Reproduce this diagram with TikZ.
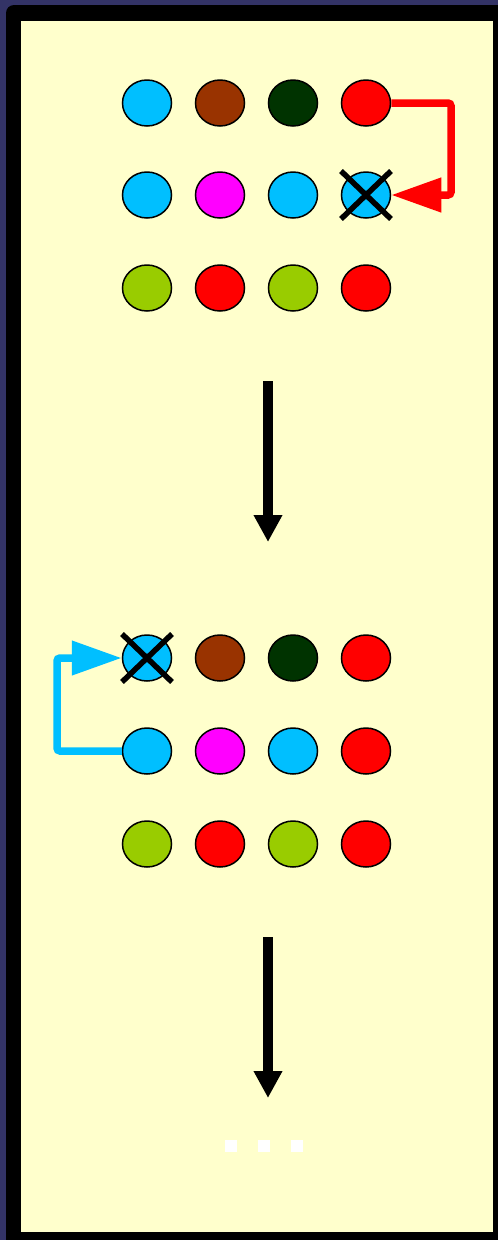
\documentclass[tikz,border=0pt]{standalone}
\usepackage{amsmath}
\usepackage{xcolor}
\usetikzlibrary{shapes.geometric,arrows.meta}

\definecolor{framebg}{HTML}{333366}
\definecolor{paper}{HTML}{FFFFCC}
\definecolor{skyb}{HTML}{00BFFF}
\definecolor{rust}{HTML}{993300}
\definecolor{pine}{HTML}{003300}
\definecolor{lime}{HTML}{99CC00}
\definecolor{pinkm}{HTML}{FF00FF}

\tikzset{
  ball/.style={ellipse, draw=black, line width=1.5pt, minimum width=49pt,
    minimum height=46pt, inner sep=0pt},
  crossout/.style={line width=5.5pt, line cap=butt},
  step arrow/.style={line width=10pt, -{Triangle[length=27pt,width=27pt]}},
  moveline/.style={line width=7.5pt, rounded corners=3pt,
    -{Triangle[length=50pt,width=33pt]}},
  gap/.style={fill=white, minimum size=12pt, inner sep=0pt}
}

\begin{document}
\begin{tikzpicture}[x=1pt,y=-1pt]
    \useasboundingbox (0,0) rectangle (498,1240);
    \clip (0,0) rectangle (498,1240);
    \fill[framebg] (0,0) rectangle (498,1240);
    \fill[black, rounded corners=8pt] (6,5) rectangle (520,1260);
    \fill[paper] (21,21) rectangle (493,1232);

    % first state
    \node[ball, fill=skyb] (a11) at (147,103) {};
    \node[ball, fill=rust] (a12) at (220,103) {};
    \node[ball, fill=pine] (a13) at (293,103) {};
    \node[ball, fill=red] (a14) at (366,103) {};
    \node[ball, fill=skyb] (a21) at (147,195) {};
    \node[ball, fill=pinkm] (a22) at (220,195) {};
    \node[ball, fill=skyb] (a23) at (293,195) {};
    \node[ball, fill=skyb] (a24) at (366,195) {};
    \node[ball, fill=lime] (a31) at (147,288) {};
    \node[ball, fill=red] (a32) at (220,288) {};
    \node[ball, fill=lime] (a33) at (293,288) {};
    \node[ball, fill=red] (a34) at (366,288) {};
    \draw[crossout] ([shift={(-25,-24)}]a24.center) -- ([shift={(25,24)}]a24.center);
    \draw[crossout] ([shift={(-25,24)}]a24.center) -- ([shift={(25,-24)}]a24.center);
    \coordinate (rturn) at (451,103);
    \draw[moveline, red] (a14.east) -- (rturn) |- (a24.east);

    \coordinate (s1) at (268,381); \coordinate (t1) at (268,542);
    \draw[step arrow] (s1) -- (t1);

    % second state
    \node[ball, fill=skyb] (b11) at (147,658) {};
    \node[ball, fill=rust] (b12) at (220,658) {};
    \node[ball, fill=pine] (b13) at (293,658) {};
    \node[ball, fill=red] (b14) at (366,658) {};
    \node[ball, fill=skyb] (b21) at (147,751) {};
    \node[ball, fill=pinkm] (b22) at (220,751) {};
    \node[ball, fill=skyb] (b23) at (293,751) {};
    \node[ball, fill=red] (b24) at (366,751) {};
    \node[ball, fill=lime] (b31) at (147,844) {};
    \node[ball, fill=red] (b32) at (220,844) {};
    \node[ball, fill=lime] (b33) at (293,844) {};
    \node[ball, fill=red] (b34) at (366,844) {};
    \draw[crossout] ([shift={(-25,-24)}]b11.center) -- ([shift={(25,24)}]b11.center);
    \draw[crossout] ([shift={(-25,24)}]b11.center) -- ([shift={(25,-24)}]b11.center);
    \coordinate (bturn) at (57,751);
    \draw[moveline, skyb] (b21.west) -- (bturn) |- (b11.west);

    \coordinate (s2) at (268,937); \coordinate (t2) at (268,1098);
    \draw[step arrow] (s2) -- (t2);

    \node[gap] (d1) at (231,1146) {};
    \node[gap] (d2) at (264,1146) {};
    \node[gap] (d3) at (297,1146) {};
  \end{tikzpicture}
\end{document}
